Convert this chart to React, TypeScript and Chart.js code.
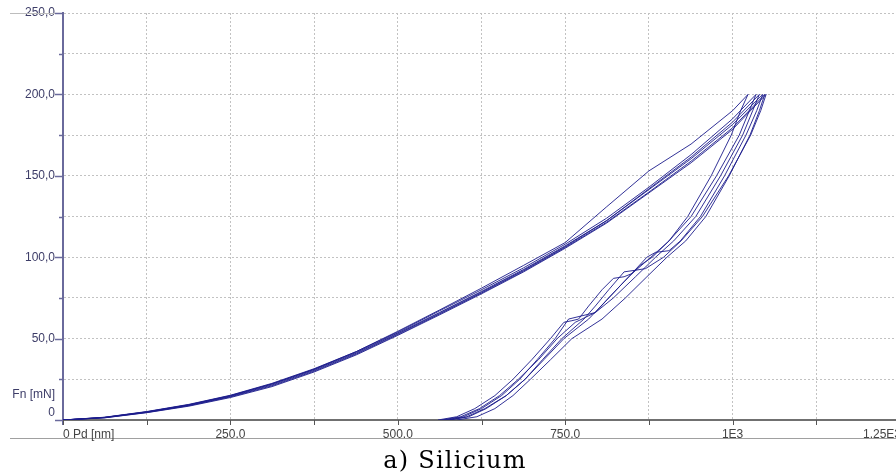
import React, { useEffect, useRef } from 'react';
import { Chart, registerables } from 'chart.js';

Chart.register(...registerables);

// ---- Data ----
const xTickLabels: Record<number, string> = { 250: '250.0', 500: '500.0', 750: '750.0', 1000: '1E3' };
const yTickValues = [50, 100, 150, 200, 250];

const loadDepth = [0, 62, 125, 188, 250, 312, 375, 438, 500, 562, 625, 688, 750, 812, 875, 938, 1000];
const loadForce1 = [0, 1.4, 4.6, 8.8, 14.2, 21, 30, 40.5, 52.5, 65, 78, 91.5, 106, 121.5, 140, 159, 179.5];
const loadForce2 = [0, 1.6, 5, 9.3, 14.8, 22, 31, 41.5, 53.5, 66, 79, 92.5, 107, 122.5, 141.5, 160.5, 181.5];
const loadForce3 = [0, 1.5, 4.8, 9, 14.5, 21.5, 30.5, 41, 53, 65.5, 78.5, 92, 106.5, 122.5, 142, 161.5, 183];
const loadForce4 = [0, 1.7, 5.2, 9.6, 15.2, 22.5, 31.5, 42, 54, 67, 80, 93.5, 108, 124, 143, 163, 185];
const loadForce5 = [0, 1.3, 4.5, 8.5, 13.8, 20.5, 29.5, 40, 52, 64.5, 77.5, 91, 105.5, 121, 139.5, 158, 178.5];
const loadForce6 = [0, 1.6, 5, 9.4, 15, 22.2, 31.2, 42, 54.5, 67.5, 81, 95, 109, 131, 153, 169.5, 190];

const peakDepth = [1048, 1045, 1040, 1035, 1050, 1023];
const peakForce = 200;

const unloadDepth1 = [1040, 1026, 995, 960, 930, 902, 872, 840, 805, 760, 728, 698, 672, 645, 618, 588];
const unloadForce1 = [190, 175, 150, 125, 110, 100, 88, 75, 62, 50, 37, 25, 15, 7, 2, 0];
const unloadDepth2 = [1036, 1020, 988, 952, 922, 905, 885, 872, 845, 815, 785, 748, 718, 690, 662, 632, 606, 578];
const unloadForce2 = [190, 175, 150, 125, 110, 104, 103, 100, 88, 75, 62, 50, 37, 25, 15, 7, 2, 0];
const unloadDepth3 = [1030, 1015, 982, 945, 912, 885, 855, 822, 795, 775, 755, 735, 708, 682, 655, 625, 598, 570];
const unloadForce3 = [190, 175, 150, 125, 110, 100, 88, 75, 66, 64, 62, 50, 37, 25, 15, 7, 2, 0];
const unloadDepth4 = [1025, 1010, 976, 938, 905, 878, 850, 838, 822, 805, 785, 770, 760, 748, 728, 700, 672, 645, 615, 588, 560];
const unloadForce4 = [190, 175, 150, 125, 110, 100, 90, 88, 87, 80, 70, 62, 61, 60, 50, 37, 25, 15, 7, 2, 0];
const unloadDepth5 = [1042, 1027, 994, 955, 923, 897, 870, 855, 838, 815, 795, 778, 745, 716, 690, 662, 630, 603, 575];
const unloadForce5 = [190, 175, 150, 125, 110, 100, 93, 92, 91, 80, 70, 62, 50, 37, 25, 15, 7, 2, 0];
const unloadDepth6 = [1012, 998, 968, 933, 905, 880, 862, 838, 815, 795, 780, 765, 738, 710, 680, 652, 622, 594, 565];
const unloadForce6 = [190, 175, 150, 125, 110, 100, 95, 85, 75, 66, 63, 60, 50, 37, 25, 15, 7, 2, 0];

const loadForces = [loadForce1, loadForce2, loadForce3, loadForce4, loadForce5, loadForce6];
const unloadDepths = [unloadDepth1, unloadDepth2, unloadDepth3, unloadDepth4, unloadDepth5, unloadDepth6];
const unloadForces = [unloadForce1, unloadForce2, unloadForce3, unloadForce4, unloadForce5, unloadForce6];

const LINE_COLOR = 'rgba(28,28,140,0.9)';
const AXIS_TEXT = '#3d3d68';

function buildCycle(i: number) {
  const pts: { x: number; y: number }[] = [];
  loadDepth.forEach((d, k) => pts.push({ x: d, y: loadForces[i][k] }));
  pts.push({ x: peakDepth[i], y: peakForce });
  unloadDepths[i].forEach((d, k) => pts.push({ x: d, y: unloadForces[i][k] }));
  return pts;
}

const extras = {
  id: 'extras',
  afterDraw(chart: any) {
    const ctx = chart.ctx as CanvasRenderingContext2D;
    const xs = chart.scales.x;
    const ys = chart.scales.y;
    const left = chart.chartArea.left;
    const bottom = chart.chartArea.bottom;
    ctx.save();
    // frame lines
    ctx.strokeStyle = '#bdbdbd';
    ctx.lineWidth = 1;
    ctx.beginPath();
    ctx.moveTo(10, 13.5);
    ctx.lineTo(left, 13.5);
    ctx.stroke();
    ctx.strokeStyle = '#a0a0a0';
    ctx.beginPath();
    ctx.moveTo(10, 438.5);
    ctx.lineTo(904, 438.5);
    ctx.stroke();
    // y ticks
    ctx.strokeStyle = '#6a6a9c';
    ctx.lineWidth = 1.5;
    for (let v = 0; v <= 250; v += 25) {
      const y = Math.round(ys.getPixelForValue(v)) + 0.5;
      const len = v % 50 === 0 ? 8 : 4;
      ctx.beginPath();
      ctx.moveTo(left - len, y);
      ctx.lineTo(left, y);
      ctx.stroke();
    }
    ctx.lineWidth = 2;
    ctx.beginPath();
    ctx.moveTo(left, bottom);
    ctx.lineTo(left, bottom + 5);
    ctx.stroke();
    // x ticks
    ctx.strokeStyle = '#555';
    ctx.lineWidth = 1;
    for (let v = 0; v <= 1250; v += 125) {
      const x = Math.round(xs.getPixelForValue(v)) + 0.5;
      ctx.beginPath();
      ctx.moveTo(x, bottom);
      ctx.lineTo(x, bottom + 5);
      ctx.stroke();
    }
    // extra texts
    ctx.font = '12px "Liberation Sans", Arial, sans-serif';
    ctx.fillStyle = AXIS_TEXT;
    ctx.textAlign = 'right';
    ctx.textBaseline = 'middle';
    ctx.fillText('0', 55, 413);
    ctx.fillText('Fn [mN]', 55, 395);
    ctx.fillStyle = '#444';
    ctx.textAlign = 'left';
    ctx.textBaseline = 'alphabetic';
    ctx.fillText('0 Pd [nm]', xs.getPixelForValue(0), 438);
    ctx.fillText('1.25E3', 863, 438);
    ctx.restore();
  },
};

export default function App() {
  const ref = useRef<HTMLCanvasElement>(null);
  useEffect(() => {
    document.body.style.margin = '0';
    document.body.style.overflow = 'hidden';
    const datasets = peakDepth.map((_, i) => ({
      data: buildCycle(i),
      showLine: true,
      borderColor: LINE_COLOR,
      borderWidth: 1,
      pointRadius: 0,
      tension: 0,
      fill: false,
    }));
    const chart = new Chart(ref.current!, {
      type: 'scatter',
      data: { datasets },
      options: {
        animation: false,
        responsive: false,
        layout: { padding: { left: 0, top: 13, right: 4, bottom: 33 } },
        plugins: { legend: { display: false }, tooltip: { enabled: false } },
        scales: {
          x: {
            type: 'linear',
            min: 0,
            max: 1250,
            afterFit(s: any) {
              s.height = 20;
              s.paddingLeft = 0;
              s.paddingRight = 0;
            },
            ticks: {
              stepSize: 125,
              autoSkip: false,
              maxRotation: 0,
              padding: 7,
              color: '#444',
              font: { family: '"Liberation Sans", Arial, sans-serif', size: 12 },
              callback: (v: any) => xTickLabels[Number(v)] ?? '',
            },
            grid: { color: '#c2c2c2', lineWidth: 1, drawTicks: false },
            border: { display: true, color: '#707070', width: 2, dash: [2, 2] },
          },
          y: {
            type: 'linear',
            min: 0,
            max: 250,
            afterFit(s: any) {
              s.width = 63;
              s.paddingTop = 0;
              s.paddingBottom = 0;
            },
            ticks: {
              stepSize: 25,
              autoSkip: false,
              padding: 8,
              color: AXIS_TEXT,
              font: { family: '"Liberation Sans", Arial, sans-serif', size: 12 },
              callback: (v: any) =>
                yTickValues.includes(Number(v)) ? Number(v).toFixed(1).replace('.', ',') : '',
            },
            grid: { color: '#c2c2c2', lineWidth: 1, drawTicks: false },
            border: { display: true, color: '#6a6a9c', width: 2, dash: [2, 2] },
          },
        },
      },
      plugins: [extras],
    } as any);
    return () => chart.destroy();
  }, []);

  return (
    <div style={{ position: 'relative', width: 896, height: 473, overflow: 'hidden', background: '#fff' }}>
      <canvas ref={ref} width={904} height={473} style={{ display: 'block', width: 904, height: 473 }} />
      <div
        style={{
          position: 'absolute',
          left: 455,
          top: 448,
          transform: 'translateX(-50%)',
          fontFamily: '"DejaVu Serif", serif',
          fontSize: 24,
          lineHeight: '24px',
          letterSpacing: '1.2px',
          whiteSpace: 'nowrap',
          color: '#000',
        }}
      >
        a) Silicium
      </div>
    </div>
  );
}
